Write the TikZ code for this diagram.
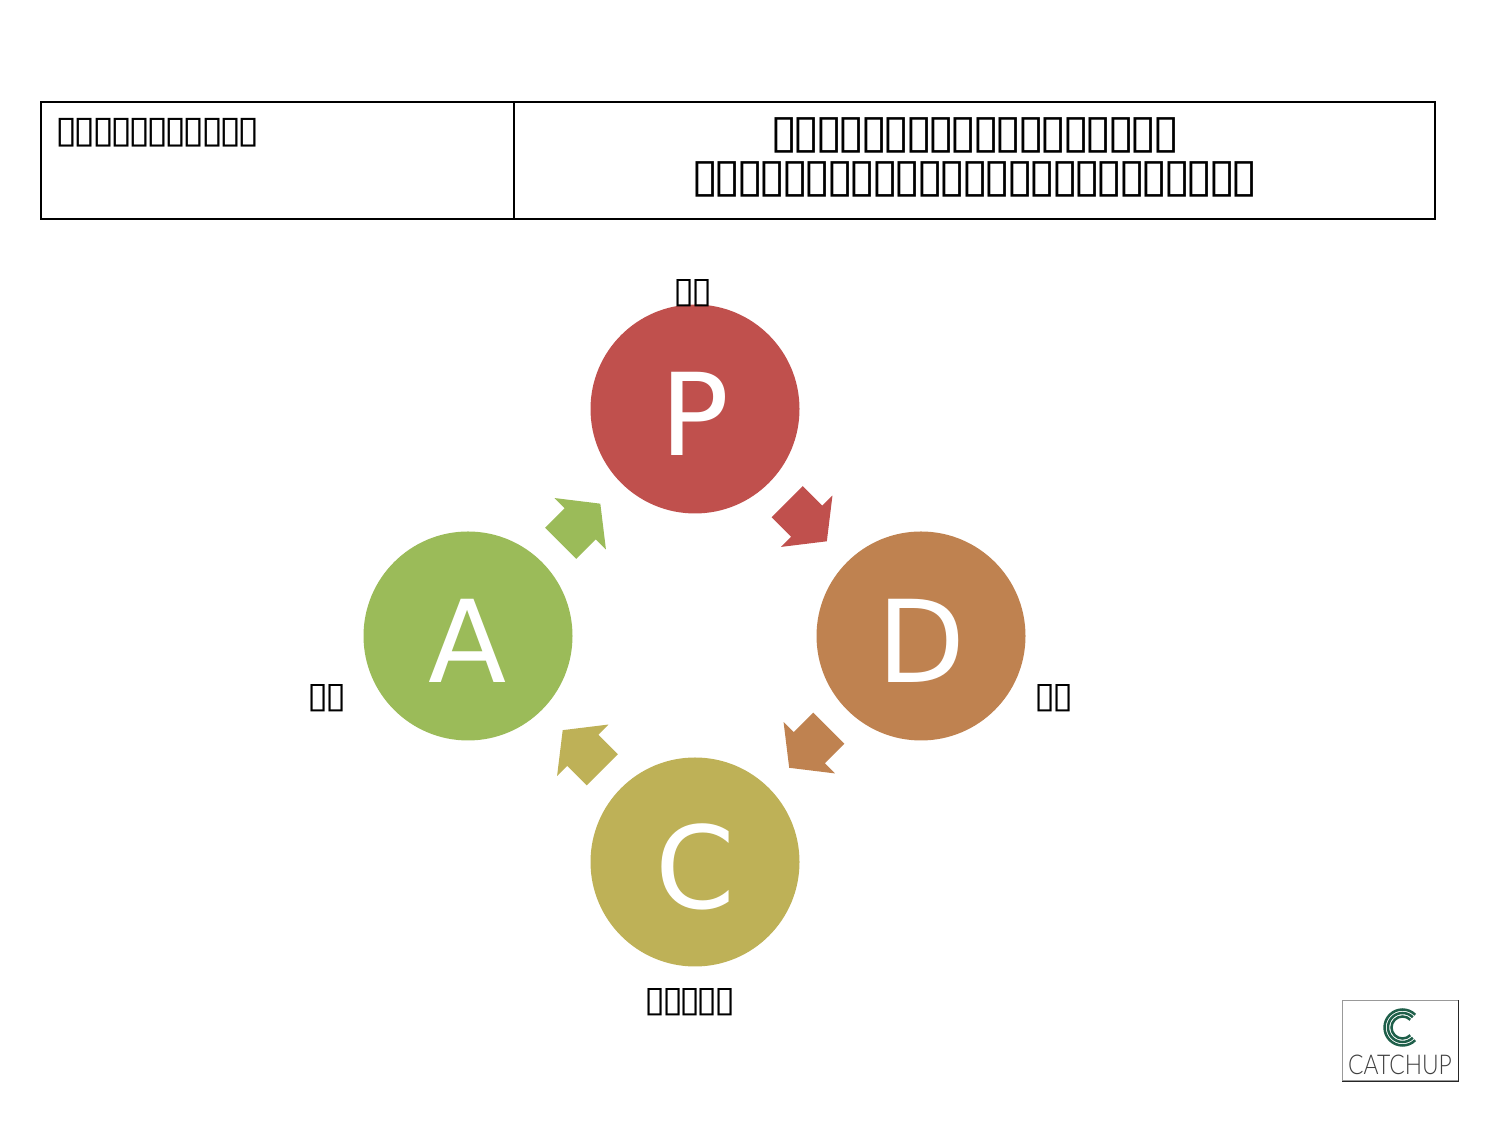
\documentclass[tikz,border=0pt]{standalone}
\usepackage{fontspec}
\setmainfont{DejaVu Sans}
\newfontfamily\boxfont[FakeStretch=1.07,LetterSpace=-10.6]{DejaVu Sans}
\newfontfamily\logofont{Lato Light}
\usetikzlibrary{shapes.arrows, positioning, calc}
\definecolor{planred}{HTML}{C0504D}
\definecolor{doorange}{HTML}{BF8250}
\definecolor{checkolive}{HTML}{BEB157}
\definecolor{actgreen}{HTML}{9BBB59}
\definecolor{logogreen}{HTML}{1F5F4A}

\begin{document}
\begin{tikzpicture}[
    cellbox/.style={draw, line width=0.04cm, rectangle, anchor=north west,
                    inner sep=0pt, outer sep=0pt, minimum height=2.34cm},
    phase/.style={circle, inner sep=0pt, minimum size=4.18cm, text=white,
                  text height=1.87cm, text depth=0pt,
                  font=\fontsize{65}{65}\selectfont},
    turn/.style={single arrow, inner xsep=0pt, inner ysep=0.434cm, minimum height=1.12cm,
                 single arrow head extend=0.286cm, single arrow tip angle=104},
    tag/.style={font=\boxfont\fontsize{20.4}{22}\selectfont, inner sep=0pt}
]
    \useasboundingbox (0, 0) rectangle (30, 22.5);

    % --- Header table ---
    \node[cellbox, minimum width=9.46cm]  (topic)   at (0.82, 20.46) {};
    \node[cellbox, minimum width=18.42cm] (summary) at (topic.north east) {};
    \node[anchor=west, inner sep=0pt, font=\boxfont\fontsize{21.4}{22}\selectfont] (topictext)
        at (1.11, 19.85) {▯▯▯▯▯▯▯▯▯▯▯};
    \node[align=center, inner sep=0pt, font=\boxfont\fontsize{26.5}{25}\selectfont] (summarytext)
        at (19.5, 19.36)
        {▯▯▯▯▯▯▯▯▯▯▯▯▯▯▯▯▯▯\\
         ▯▯▯▯▯▯▯▯▯▯▯▯▯▯▯▯▯▯▯▯▯▯▯▯▯};

    % --- Cycle ---
    \node[phase, fill=planred]    (plan)  at (13.9, 14.32) {P};
    \node[phase, fill=doorange]   (do)    at (18.42, 9.78) {D};
    \node[phase, fill=checkolive] (check) at (13.9, 5.26)  {C};
    \node[phase, fill=actgreen]   (act)   at (9.36, 9.78)  {A};

    % --- Arrows between phases ---
    \node[turn, fill=planred,    rotate=-45]  (plando)   at ($(plan)!0.5!(do)!0.2cm!(plan)$)   {};
    \node[turn, fill=doorange,   rotate=-135] (docheck)  at ($(do)!0.5!(check)!0.2cm!(do)$)    {};
    \node[turn, fill=checkolive, rotate=135]  (checkact) at ($(check)!0.5!(act)!0.2cm!(check)$) {};
    \node[turn, fill=actgreen,   rotate=45]   (actplan)  at ($(act)!0.5!(plan)!0.2cm!(act)$)   {};

    % --- Labels ---
    \node[tag] (plantag)  at (13.86, 16.64) {▯▯};
    \node[tag] (dotag)    at (21.08, 8.54)  {▯▯};
    \node[tag] (checktag) at (13.8, 2.46)   {▯▯▯▯▯};
    \node[tag] (acttag)   at (6.54, 8.54)   {▯▯};

    % --- Logo ---
    \node[draw=black!40, line width=0.02cm, inner sep=0pt, minimum width=2.32cm,
          minimum height=1.6cm] (logo) at (28, 1.68) {};
    \draw[black!85, line width=0.02cm] (logo.north east) -- (logo.south east) -- (logo.south west);
    \foreach \r in {0.36, 0.29, 0.22}
        \draw[logogreen, line width=0.05cm]
            ($(logo.center)+(0.05, 0.27)$) ++(45:\r) arc (45:315:\r);
    \node[text=black!75, inner sep=0pt, xscale=0.84, transform shape,
          font=\logofont\fontsize{15.5}{15.5}\selectfont] (logotext)
        at ($(logo.center)+(0, -0.48)$) {CATCHUP};
\end{tikzpicture}
\end{document}
